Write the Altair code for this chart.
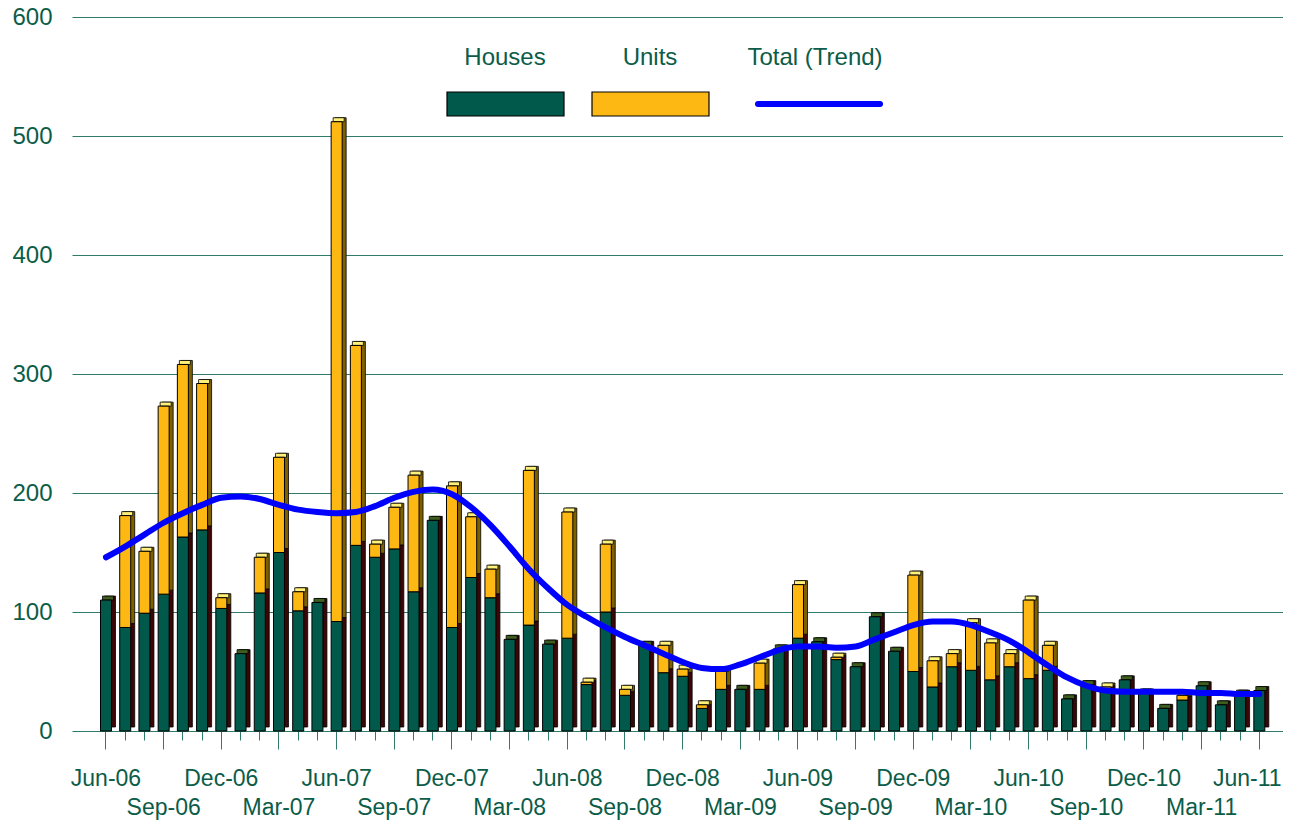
import altair as alt
import pandas as pd

months = [
    "Jun-06", "Jul-06", "Aug-06", "Sep-06", "Oct-06", "Nov-06", "Dec-06",
    "Jan-07", "Feb-07", "Mar-07", "Apr-07", "May-07", "Jun-07", "Jul-07", "Aug-07", "Sep-07", "Oct-07", "Nov-07", "Dec-07",
    "Jan-08", "Feb-08", "Mar-08", "Apr-08", "May-08", "Jun-08", "Jul-08", "Aug-08", "Sep-08", "Oct-08", "Nov-08", "Dec-08",
    "Jan-09", "Feb-09", "Mar-09", "Apr-09", "May-09", "Jun-09", "Jul-09", "Aug-09", "Sep-09", "Oct-09", "Nov-09", "Dec-09",
    "Jan-10", "Feb-10", "Mar-10", "Apr-10", "May-10", "Jun-10", "Jul-10", "Aug-10", "Sep-10", "Oct-10", "Nov-10", "Dec-10",
    "Jan-11", "Feb-11", "Mar-11", "Apr-11", "May-11", "Jun-11",
]

houses = [
    110, 87, 99, 115, 163, 169, 103,
    65, 116, 150, 101, 108, 92, 156, 146, 153, 117, 177, 87,
    129, 112, 77, 89, 73, 78, 39, 100, 30, 72, 49, 46,
    19, 35, 35, 35, 69, 78, 75, 60, 54, 96, 67, 50,
    37, 54, 51, 43, 54, 44, 51, 27, 39, 35, 43, 32,
    19, 26, 38, 22, 31, 34,
]

units = [
    0, 94, 52, 158, 145, 123, 9,
    0, 30, 80, 16, 0, 420, 168, 11, 35, 98, 0, 119,
    51, 24, 0, 130, 0, 106, 2, 57, 5, 0, 23, 6,
    3, 15, 0, 22, 0, 45, 0, 2, 0, 0, 0, 81,
    22, 11, 40, 31, 11, 66, 21, 0, 0, 2, 0, 0,
    0, 4, 0, 0, 0, 0,
]

trend = [
    146, 155, 165, 175, 183, 190, 196,
    197, 195, 190, 186, 184, 183, 184, 189, 196, 201, 203, 199,
    188, 173, 155, 136, 120, 106, 96, 87, 79, 72, 65, 58,
    53, 52, 56, 62, 68, 71, 71, 70, 71, 77, 83, 89,
    92, 92, 89, 83, 76, 66, 55, 45, 38, 34, 33, 33,
    33, 33, 32, 32, 31, 31,
]

series_names = ["Houses", "Units"]
trend_name = "Total (Trend)"
y_ticks = [0, 100, 200, 300, 400, 500, 600]

# ---- styles ----
FONT = "Liberation Sans"
TEXT = "#0B5C48"
GRID = "#2F7A68"
HOUSE = "#00594A"
UNIT = "#FDB813"
HOUSE_SIDE = "#3A0606"
UNIT_SIDE = "#7F6000"
HOUSE_TOP = "#3E5E1E"
UNIT_TOP = "#FFF07A"
BLUE = "#0000FF"

rows = []
for i, m in enumerate(months):
    rows.append({"month": m, "series": series_names[0], "ord": 0, "value": houses[i]})
    rows.append({"month": m, "series": series_names[1], "ord": 1, "value": units[i]})
long_df = pd.DataFrame(rows)
long_df = long_df[long_df["value"] > 0]

tot_df = pd.DataFrame({
    "month": months,
    "total": [h + u for h, u in zip(houses, units)],
    "top": [series_names[1] if u > 0 else series_names[0] for u in units],
    "trend": trend,
})

mon = "slice(datum.value, 0, 3)"
label_expr = (
    f"({mon} == 'Jun' || {mon} == 'Dec') ? datum.value : "
    f"(({mon} == 'Sep' || {mon} == 'Mar') ? ['', datum.value] : '')"
)
quarter_test = f"{mon} == 'Jun' || {mon} == 'Dec' || {mon} == 'Sep' || {mon} == 'Mar'"
last_test = f"datum.value == '{months[-1]}'"

x_axis = alt.Axis(
    title=None, domain=False, grid=False, labelAngle=0, labelOverlap=False,
    labelExpr=label_expr, labelFont=FONT, labelFontSize=23, labelColor=TEXT,
    labelLineHeight=29, labelPadding=18,
    labelOffset={"condition": {"test": last_test, "value": -12}, "value": 0},
    tickColor=GRID, tickWidth=1,
    tickSize={"condition": {"test": quarter_test, "value": 18}, "value": 9},
)
x_scale = alt.Scale(domain=months, paddingInner=0, paddingOuter=1, align=0.634)
y_axis = alt.Axis(
    title=None, values=y_ticks, domain=False, ticks=False,
    labelFont=FONT, labelFontSize=24, labelColor=TEXT, labelPadding=20,
    grid=True, gridColor=GRID, gridWidth=1,
)
y_scale = alt.Scale(domain=[0, 600], nice=False)


def xe():
    return alt.X("month:N", scale=x_scale, axis=x_axis)


side = alt.Chart(long_df).mark_bar(
    size=11, xOffset=4, x2Offset=4, yOffset=-4, y2Offset=-4,
    stroke="black", strokeWidth=0.8,
).encode(
    x=xe(),
    y=alt.Y("value:Q", stack="zero", scale=y_scale, axis=y_axis),
    color=alt.Color("series:N", scale=alt.Scale(domain=series_names, range=[HOUSE_SIDE, UNIT_SIDE]), legend=None),
    order=alt.Order("ord:Q"),
)

top = alt.Chart(tot_df).mark_bar(
    size=11, xOffset=2, x2Offset=2, y2Offset=-4,
    stroke="black", strokeWidth=0.8,
).encode(
    x=xe(),
    y=alt.Y("total:Q", stack=None, scale=y_scale, axis=y_axis),
    y2=alt.Y2("total:Q"),
    color=alt.Color("top:N", scale=alt.Scale(domain=series_names, range=[HOUSE_TOP, UNIT_TOP]), legend=None),
)

front = alt.Chart(long_df).mark_bar(
    size=11, stroke="black", strokeWidth=1,
).encode(
    x=xe(),
    y=alt.Y("value:Q", stack="zero", scale=y_scale, axis=y_axis),
    color=alt.Color("series:N", scale=alt.Scale(domain=series_names, range=[HOUSE, UNIT]), legend=None),
    order=alt.Order("ord:Q"),
)

line = alt.Chart(tot_df).mark_line(
    color=BLUE, strokeWidth=6, interpolate="monotone", strokeCap="round",
).encode(
    x=xe(),
    y=alt.Y("trend:Q", scale=y_scale, axis=y_axis),
)

# ---- legend (labels above swatches) ----
legend_layers = []
legend_specs = [
    (series_names[0], 433, "rect", 375, 492, HOUSE),
    (series_names[1], 578, "rect", 520, 637, UNIT),
    (trend_name, 743, "line", 686, 808, BLUE),
]
for name, tx, kind, x1, x2, col in legend_specs:
    ldf = pd.DataFrame({"label": [name]})
    legend_layers.append(
        alt.Chart(ldf).mark_text(
            align="center", baseline="alphabetic", font=FONT, fontSize=24, color=TEXT,
        ).encode(x=alt.value(tx), y=alt.value(47.5), text="label:N")
    )
    if kind == "rect":
        legend_layers.append(
            alt.Chart(ldf).mark_rect(fill=col, stroke="black", strokeWidth=1.2).encode(
                x=alt.value(x1), x2=alt.value(x2), y=alt.value(75), y2=alt.value(99)
            )
        )
    else:
        legend_layers.append(
            alt.Chart(ldf).mark_rule(color=col, strokeWidth=6, strokeCap="round").encode(
                x=alt.value(x1), x2=alt.value(x2), y=alt.value(87)
            )
        )

chart = alt.layer(side, top, front, line, *legend_layers).resolve_scale(
    color="independent"
).properties(
    width=1211, height=714,
    padding={"left": 64, "top": 9, "right": 0, "bottom": 89},
    autosize=alt.AutoSizeParams(type="none"),
    background="white",
).configure_view(stroke=None)

chart.save("out.html", embed_options={"renderer": "svg", "actions": False})
